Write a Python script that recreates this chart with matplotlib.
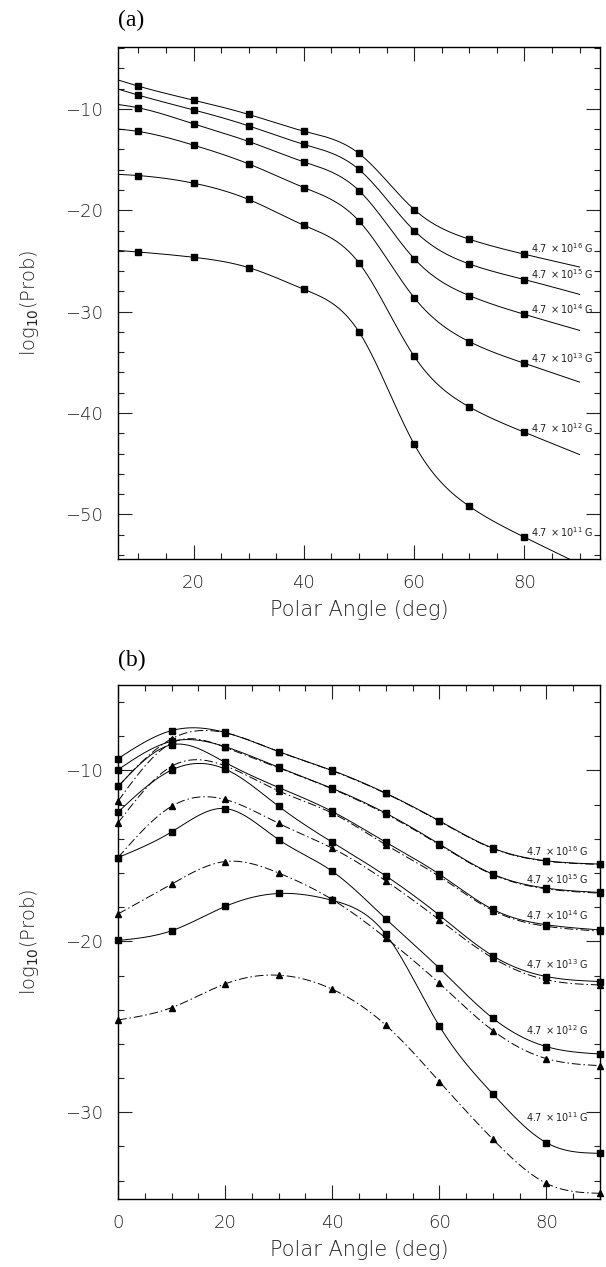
import matplotlib
matplotlib.use("Agg")
import matplotlib.pyplot as plt
import numpy as np
from matplotlib.ticker import MultipleLocator

plt.rcParams['font.family'] = ['DejaVu Sans']
plt.rcParams['mathtext.fontset'] = 'dejavusans'

# ---- panel (a): square markers at 10..80 deg, curve runs 6..90 deg
a_marks = [10, 20, 30, 40, 50, 60, 70, 80]
a_start, a_end = 6, 90
a_fields = ['16', '15', '14', '13', '12', '11']
a_vals = {
    '16': [-7.76, -9.14, -10.55, -12.2, -14.4, -19.93, -22.86, -24.34],
    '15': [-8.65, -10.1, -11.68, -13.5, -15.98, -22.0, -25.3, -26.84],
    '14': [-9.9, -11.48, -13.22, -15.23, -18.06, -24.77, -28.42, -30.27],
    '13': [-12.23, -13.58, -15.43, -17.76, -21.06, -28.62, -32.96, -35.1],
    '12': [-16.58, -17.33, -18.94, -21.48, -25.2, -34.4, -39.4, -41.9],
    '11': [-24.12, -24.64, -25.66, -27.8, -32.0, -43.07, -49.2, -52.25],
}
a_first = {'16': -7.1, '15': -8.0, '14': -9.54, '13': -11.97, '12': -16.45, '11': -23.95}
a_last = {'16': -25.6, '15': -28.3, '14': -31.85, '13': -36.95, '12': -44.1, '11': -54.9}
a_label_y = {'16': -23.7, '15': -26.25, '14': -29.8, '13': -34.6, '12': -41.45, '11': -51.75}

# ---- panel (b): solid/squares and dash-dot/triangles at 0..90 deg
b_x = [0, 10, 20, 30, 40, 50, 60, 70, 80, 90]
b_solid = {
    '16': [-9.31, -7.67, -7.78, -8.9, -10.0, -11.33, -12.95, -14.55, -15.29, -15.48],
    '15': [-9.96, -8.3, -8.61, -9.82, -11.05, -12.5, -14.31, -16.07, -16.89, -17.14],
    '14': [-10.94, -8.5, -9.53, -11.0, -12.4, -14.2, -16.07, -18.13, -19.03, -19.33],
    '13': [-12.44, -9.98, -9.92, -12.1, -14.2, -16.17, -18.47, -20.85, -22.06, -22.35],
    '12': [-15.1, -13.6, -12.23, -14.05, -15.9, -18.68, -21.57, -24.5, -26.16, -26.59],
    '11': [-19.95, -19.38, -17.96, -17.2, -17.6, -19.58, -24.95, -28.93, -31.78, -32.4],
}
b_dash = {
    '16': [-10.94, -8.15, -7.8, -8.9, -10.02, -11.35, -12.97, -14.57, -15.31, -15.5],
    '15': [-11.8, -8.4, -8.65, -9.85, -11.08, -12.55, -14.35, -16.1, -16.93, -17.18],
    '14': [-13.07, -9.76, -9.73, -11.2, -12.5, -14.35, -16.2, -18.2, -19.12, -19.4],
    '13': [-15.1, -12.1, -11.7, -13.1, -14.55, -16.46, -18.74, -20.98, -22.25, -22.55],
    '12': [-18.4, -16.65, -15.33, -16.0, -17.55, -19.8, -22.45, -25.22, -26.86, -27.27],
    '11': [-24.6, -23.88, -22.49, -21.98, -22.8, -24.9, -28.2, -31.58, -34.16, -34.74],
}
b_label_y = {'16': -14.74, '15': -16.34, '14': -18.45, '13': -21.32, '12': -25.18, '11': -30.3}


def spline(x, y, n=400):
    # natural cubic spline, only used to draw the smooth connecting line
    x = np.asarray(x, float)
    y = np.asarray(y, float)
    k = len(x)
    h = np.diff(x)
    A = np.zeros((k, k))
    r = np.zeros(k)
    A[0, 0] = A[-1, -1] = 1
    for i in range(1, k - 1):
        A[i, i - 1] = h[i - 1]
        A[i, i] = 2 * (h[i - 1] + h[i])
        A[i, i + 1] = h[i]
        r[i] = 6 * ((y[i + 1] - y[i]) / h[i] - (y[i] - y[i - 1]) / h[i - 1])
    M = np.linalg.solve(A, r)
    t = np.linspace(x[0], x[-1], n)
    idx = np.clip(np.searchsorted(x, t) - 1, 0, k - 2)
    x0, x1 = x[idx], x[idx + 1]
    hh = x1 - x0
    s = (M[idx] * (x1 - t) ** 3 + M[idx + 1] * (t - x0) ** 3) / (6 * hh) \
        + (y[idx] / hh - M[idx] * hh / 6) * (x1 - t) \
        + (y[idx + 1] / hh - M[idx + 1] * hh / 6) * (t - x0)
    return t, s


def style(ax):
    ax.tick_params(which='both', direction='in', top=True, right=True,
                   labelsize=13, pad=11, colors='#222222', width=0.8)
    ax.tick_params(which='major', length=10)
    ax.tick_params(which='minor', length=4)
    for lab in ax.get_xticklabels() + ax.get_yticklabels():
        lab.set_fontweight('light')
    for sp in ax.spines.values():
        sp.set_linewidth(1.0)


def label(field):
    return r'4.7$\;\times$10$^{%s}$ G' % field


fig = plt.figure(figsize=(6.06, 12.67), dpi=100)
ax1 = fig.add_axes([0.1947, 0.5588, 0.7954, 0.4041])
ax2 = fig.add_axes([0.1947, 0.0537, 0.7954, 0.4057])

# panel (a)
for f in a_fields:
    xs = [a_start] + a_marks + [a_end]
    ys = [a_first[f]] + a_vals[f] + [a_last[f]]
    t, s = spline(xs, ys)
    ax1.plot(t, s, color='black', lw=0.7)
    ax1.plot(a_marks, a_vals[f], ls='none', marker='s', ms=4, color='black')
    ax1.text(81.2, a_label_y[f], label(f), fontsize=7, va='center', ha='left', color='#222222')

ax1.set_xlim(6.3, 93.7)
ax1.set_ylim(-54.4, -3.9)
ax1.xaxis.set_major_locator(MultipleLocator(20))
ax1.xaxis.set_minor_locator(MultipleLocator(5))
ax1.yaxis.set_major_locator(MultipleLocator(10))
ax1.yaxis.set_minor_locator(MultipleLocator(2))
ax1.set_xlabel('Polar Angle (deg)', fontsize=15, fontweight='light', color='#222222')
ax1.set_ylabel(r'log$_{10}$(Prob)', fontsize=14, fontweight='light', color='#222222')
ax1.xaxis.set_label_coords(0.5, -0.08)
ax1.yaxis.set_label_coords(-0.16, 0.5)
style(ax1)

# panel (b)
for f in a_fields:
    t, s = spline(b_x, b_solid[f])
    ax2.plot(t, s, color='black', lw=0.7)
    ax2.plot(b_x, b_solid[f], ls='none', marker='s', ms=4, color='black', clip_on=False)
    t, s = spline(b_x, b_dash[f])
    ax2.plot(t, s, color='black', lw=0.7, dashes=(9, 3, 1.5, 3))
    ax2.plot(b_x, b_dash[f], ls='none', marker='^', ms=4, color='black', clip_on=False)
    ax2.text(76.2, b_label_y[f], label(f), fontsize=7, va='center', ha='left', color='#222222')

ax2.set_xlim(0, 90)
ax2.set_ylim(-35.07, -5.0)
ax2.xaxis.set_major_locator(MultipleLocator(20))
ax2.xaxis.set_minor_locator(MultipleLocator(5))
ax2.yaxis.set_major_locator(MultipleLocator(10))
ax2.yaxis.set_minor_locator(MultipleLocator(2))
ax2.set_xlabel('Polar Angle (deg)', fontsize=15, fontweight='light', color='#222222')
ax2.set_ylabel(r'log$_{10}$(Prob)', fontsize=14, fontweight='light', color='#222222')
ax2.xaxis.set_label_coords(0.5, -0.08)
ax2.yaxis.set_label_coords(-0.16, 0.5)
style(ax2)

fig.text(118 / 606, 1 - 20 / 1267, '(a)', family='Liberation Serif', fontsize=17, va='center', ha='left')
fig.text(118 / 606, 1 - 660 / 1267, '(b)', family='Liberation Serif', fontsize=17, va='center', ha='left')

fig.savefig('out.png', dpi=100)
